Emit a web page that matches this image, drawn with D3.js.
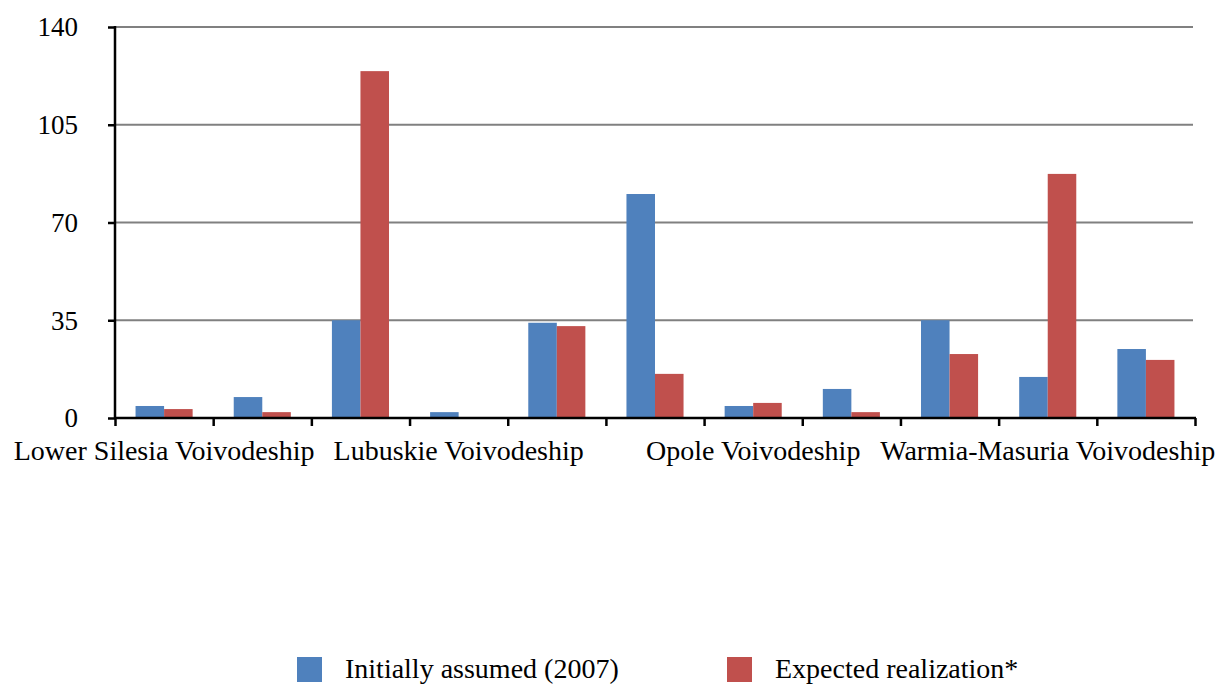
<!DOCTYPE html>
<html>
<head>
<meta charset="utf-8">
<script src="https://cdnjs.cloudflare.com/ajax/libs/d3/7.8.5/d3.min.js"></script>
<style>
	body { margin: 0; background: #fff; }
	text { font-family: "Liberation Serif", "Times New Roman", serif; fill: #000; }
</style>
</head>
<body>
<div id="graph"></div>
<script>
const categories = [
	"Lower Silesia Voivodeship",
	"Kuyavia-Pomerania Voivodeship",
	"Lublin Voivodeship",
	"Lubuskie Voivodeship",
	"Łódź Voivodeship",
	"Lesser Poland Voivodeship",
	"Opole Voivodeship",
	"Podkarpackie Voivodeship",
	"Pomerania Voivodeship",
	"Warmia-Masuria Voivodeship",
	"West Pomerania Voivodeship"
];
const seriesNames = ["Initially assumed (2007)", "Expected realization*"];
const initiallyAssumed = [4.3, 7.5, 35, 2.1, 34.1, 80.2, 4.3, 10.4, 35, 14.7, 24.7];
const expectedRealization = [3.2, 2.1, 124.2, 0, 32.9, 15.8, 5.4, 2.1, 22.9, 87.4, 20.8];
const yTicks = [0, 35, 70, 105, 140];
const colors = ["#4F81BD", "#C0504D"];

const margin = {top: 27, right: 25, bottom: 266, left: 115},
	width = 1220 - margin.left - margin.right,
	height = 684 - margin.top - margin.bottom;

const data = categories.map((c, i) => {
	return {
		category: c,
		values: [
			{series: seriesNames[0], value: initiallyAssumed[i]},
			{series: seriesNames[1], value: expectedRealization[i]}
		]
	};
});

var xCat = d3.scaleBand()
	.domain(categories)
	.range([0, width])
	.padding(0);

var xSeries = d3.scaleBand()
	.domain(seriesNames)
	.range([0, xCat.bandwidth()])
	.paddingInner(0)
	.paddingOuter(0.72);

var xEdge = d3.scaleLinear()
	.domain([0, categories.length])
	.range([0, width]);

var yScale = d3.scaleLinear()
	.domain([0, 140])
	.range([height, 0]);

var color = d3.scaleOrdinal()
	.domain(seriesNames)
	.range(colors);

var svg = d3.select("#graph")
	.append("svg")
	.attr("width", 1220)
	.attr("height", 684)
	.append("g")
	.attr("transform", "translate(" + margin.left + "," + margin.top + ")");

// gridlines
svg.selectAll(".grid")
	.data(yTicks.filter((d) => d > 0))
	.enter().append("line")
	.attr("class", "grid")
	.attr("x1", 0)
	.attr("x2", width - 2)
	.attr("y1", (d) => yScale(d))
	.attr("y2", (d) => yScale(d))
	.attr("stroke", "#808080")
	.attr("stroke-width", 2.2);

// bars
var groups = svg.selectAll(".group")
	.data(data)
	.enter().append("g")
	.attr("class", "group")
	.attr("transform", (d) => "translate(" + xCat(d.category) + ",0)");

groups.selectAll("rect")
	.data((d) => d.values)
	.enter().append("rect")
	.attr("x", (d) => xSeries(d.series))
	.attr("y", (d) => yScale(d.value))
	.attr("width", xSeries.bandwidth())
	.attr("height", (d) => height - yScale(d.value))
	.attr("fill", (d) => color(d.series));

// y axis
var yAxis = d3.axisLeft(yScale)
	.tickValues(yTicks)
	.tickSize(7)
	.tickPadding(30);

var yG = svg.append("g")
	.attr("class", "axis")
	.call(yAxis);
yG.select(".domain").remove();
yG.append("line")
	.attr("x1", 0).attr("x2", 0)
	.attr("y1", -1).attr("y2", height + 1)
	.attr("stroke", "#000")
	.attr("stroke-width", 2.5);
yG.selectAll(".tick line").attr("stroke", "#000").attr("stroke-width", 2.5);
yG.selectAll(".tick text")
	.style("font-size", "27px")
	.attr("dy", "0.33em");

// x axis: ticks at category edges
var xEdgeAxis = d3.axisBottom(xEdge)
	.tickValues(d3.range(categories.length + 1))
	.tickSize(8)
	.tickFormat("");

var xG = svg.append("g")
	.attr("class", "axis")
	.attr("transform", "translate(0," + height + ")")
	.call(xEdgeAxis);
xG.select(".domain").remove();
xG.append("line")
	.attr("x1", -1).attr("x2", width + 1)
	.attr("y1", 0).attr("y2", 0)
	.attr("stroke", "#000")
	.attr("stroke-width", 2.5);
xG.selectAll(".tick line").attr("stroke", "#000").attr("stroke-width", 2.5);

// x labels, every third category
var xLabelAxis = d3.axisBottom(xCat)
	.tickSize(0)
	.tickPadding(22)
	.tickFormat((d, i) => i % 3 === 0 ? d : "");

var xL = svg.append("g")
	.attr("transform", "translate(0," + height + ")")
	.call(xLabelAxis);
xL.select(".domain").remove();
xL.selectAll(".tick text")
	.style("font-size", "28px");

// legend
var legendX = [297, 727];
var legend = d3.select("svg").selectAll(".legend")
	.data(seriesNames)
	.enter().append("g")
	.attr("class", "legend")
	.attr("transform", (d, i) => "translate(" + legendX[i] + ",657)");

legend.append("rect")
	.attr("width", 25)
	.attr("height", 25)
	.attr("fill", (d) => color(d));

legend.append("text")
	.attr("x", 48)
	.attr("y", 21)
	.style("font-size", "28px")
	.text((d) => d);
</script>
</body>
</html>
